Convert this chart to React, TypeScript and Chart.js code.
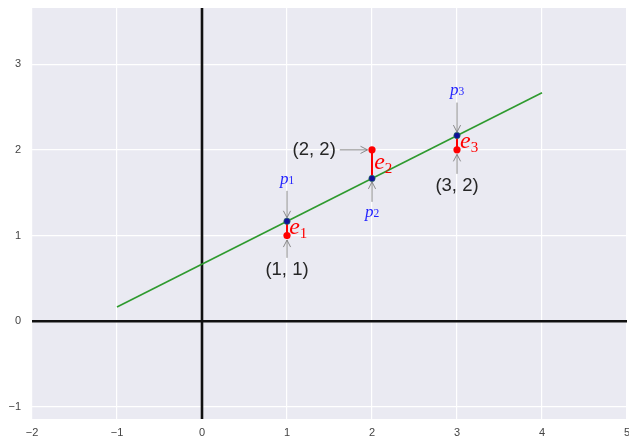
import React, { useEffect, useRef } from "react";
import { Chart, registerables } from "chart.js";
Chart.register(...registerables);

// ---- data ----
const xTicks = [-2, -1, 0, 1, 2, 3, 4, 5];
const yTicks = [-1, 0, 1, 2, 3];
const xRange = [-2, 5];
const yRange = [-1.14, 3.655];

const obsX = [1, 2, 3];
const obsY = [1, 2, 2];
const fitY = [1.1667, 1.6667, 2.1667];

const lineX = [-1, 4];
const lineY = [0.1667, 2.6667];

const pointLabels = ["(1, 1)", "(2, 2)", "(3, 2)"];
const pointLabelX = [1.0, 1.32, 3.0];
const pointLabelY = [0.6, 2.0, 1.58];

const fitSubs = ["1", "2", "3"];
const fitLabelY = [1.65, 1.265, 2.68];

const errSubs = ["1", "2", "3"];
const errLabelDX = [0.025, 0.025, 0.035];

const fmt = (v: number) => (v < 0 ? "\u2212" + Math.abs(v) : String(v));

function drawArrow(ctx: CanvasRenderingContext2D, x0: number, y0: number, x1: number, y1: number) {
  ctx.save();
  ctx.strokeStyle = "rgba(120,120,120,0.85)";
  ctx.lineWidth = 1;
  ctx.beginPath();
  ctx.moveTo(x0, y0);
  ctx.lineTo(x1, y1);
  ctx.stroke();
  const a = Math.atan2(y1 - y0, x1 - x0);
  const L = 7, W = 3.6;
  const bx = x1 - L * Math.cos(a), by = y1 - L * Math.sin(a);
  const nx = -Math.sin(a), ny = Math.cos(a);
  ctx.beginPath();
  ctx.moveTo(bx + nx * W, by + ny * W);
  ctx.lineTo(x1, y1);
  ctx.lineTo(bx - nx * W, by - ny * W);
  ctx.stroke();
  ctx.restore();
}

function drawMath(
  ctx: CanvasRenderingContext2D,
  base: string,
  sub: string,
  x: number,
  yCenter: number,
  size: number,
  subSize: number,
  subDrop: number,
  align: "left" | "center",
  color: string
) {
  ctx.save();
  ctx.fillStyle = color;
  ctx.textBaseline = "alphabetic";
  ctx.textAlign = "left";
  const mainFont = `italic ${size}px "Liberation Serif"`;
  const subFont = `${subSize}px "Liberation Serif"`;
  ctx.font = mainFont;
  const wm = ctx.measureText(base).width;
  ctx.font = subFont;
  const ws = ctx.measureText(sub).width;
  const x0 = align === "center" ? x - (wm + ws) / 2 : x;
  const baseline = yCenter + size * 0.22;
  ctx.font = mainFont;
  ctx.fillText(base, x0, baseline);
  ctx.font = subFont;
  ctx.fillText(sub, x0 + wm, baseline + subDrop);
  ctx.restore();
}

const decoPlugin = {
  id: "deco",
  beforeDraw(chart: any) {
    const { ctx, chartArea: a } = chart;
    ctx.save();
    ctx.fillStyle = "#EAEAF2";
    ctx.fillRect(a.left, a.top, a.right - a.left, a.bottom - a.top);
    ctx.restore();
  },
  beforeDatasetsDraw(chart: any) {
    const { ctx, chartArea: a } = chart;
    const xs = chart.scales.x, ys = chart.scales.y;
    const px = xs.getPixelForValue(0), py = ys.getPixelForValue(0);
    ctx.save();
    ctx.strokeStyle = "#111111";
    ctx.lineWidth = 2.6;
    ctx.beginPath();
    ctx.moveTo(a.left, py);
    ctx.lineTo(a.right, py);
    ctx.moveTo(px, a.top);
    ctx.lineTo(px, a.bottom);
    ctx.stroke();
    ctx.restore();
  },
  afterDatasetsDraw(chart: any) {
    const { ctx } = chart;
    const xs = chart.scales.x, ys = chart.scales.y;
    const gap = 4.5;
    for (let i = 0; i < obsX.length; i++) {
      // coordinate labels
      const cx = xs.getPixelForValue(pointLabelX[i]);
      const cy = ys.getPixelForValue(pointLabelY[i]);
      ctx.save();
      ctx.font = '18.5px "Liberation Sans"';
      ctx.fillStyle = "#262626";
      ctx.textAlign = "center";
      ctx.textBaseline = "middle";
      ctx.fillText(pointLabels[i], cx, cy);
      const w = ctx.measureText(pointLabels[i]).width;
      ctx.restore();
      const tx = xs.getPixelForValue(obsX[i]);
      const ty = ys.getPixelForValue(obsY[i]);
      if (Math.abs(tx - cx) > Math.abs(ty - cy)) {
        const s = Math.sign(tx - cx);
        drawArrow(ctx, cx + s * (w / 2 + 4), ty, tx - s * gap, ty);
      } else {
        const s = Math.sign(ty - cy);
        drawArrow(ctx, tx, cy + s * 12, tx, ty - s * gap);
      }

      // p labels
      const fx = xs.getPixelForValue(obsX[i]);
      const fy = ys.getPixelForValue(fitY[i]);
      const ply = ys.getPixelForValue(fitLabelY[i]);
      drawMath(ctx, "p", fitSubs[i], fx, ply, 17, 11.5, 0, "center", "#2222ff");
      const s2 = Math.sign(fy - ply);
      drawArrow(ctx, fx, ply + s2 * 11, fx, fy - s2 * 3.5);

      // e labels
      const ex = xs.getPixelForValue(obsX[i] + errLabelDX[i]);
      const ey = ys.getPixelForValue((obsY[i] + fitY[i]) / 2);
      drawMath(ctx, "e", errSubs[i], ex, ey, 24, 15, 4, "left", "#ff0000");
    }
  },
};

export default function App() {
  const ref = useRef<HTMLCanvasElement | null>(null);
  useEffect(() => {
    if (!ref.current) return;
    const pt = (xs: number[], ys: number[]) => xs.map((x, i) => ({ x, y: ys[i] }));
    const residuals = obsX.map((x, i) => ({
      data: [
        { x, y: obsY[i] },
        { x, y: fitY[i] },
      ],
      showLine: true,
      pointRadius: 0,
      borderColor: "#ff0000",
      borderWidth: 2,
    }));
    const chart = new Chart(ref.current, {
      type: "scatter",
      data: {
        datasets: [
          {
            data: pt(obsX, fitY),
            pointRadius: 3.2,
            backgroundColor: "#10109a",
            borderColor: "#2a7a5a",
            borderWidth: 0.6,
          },
          {
            data: pt(obsX, obsY),
            pointRadius: 3.6,
            backgroundColor: "#ff0000",
            borderWidth: 0,
          },
          ...residuals,
          {
            data: pt(lineX, lineY),
            showLine: true,
            pointRadius: 0,
            borderColor: "#2e9a2e",
            borderWidth: 1.6,
          },
        ] as any,
      },
      options: {
        animation: false,
        responsive: false,
        events: [],
        layout: { autoPadding: false, padding: { top: 8, right: 2, left: 0, bottom: 0 } },
        plugins: { legend: { display: false }, tooltip: { enabled: false } },
        scales: {
          x: {
            type: "linear",
            min: xRange[0],
            max: xRange[1],
            afterBuildTicks: (s: any) => {
              s.ticks = xTicks.map((v) => ({ value: v }));
            },
            afterFit: (s: any) => {
              s.height = 20;
              s.paddingLeft = 0;
              s.paddingRight = 0;
            },
            grid: { color: "#ffffff", lineWidth: 1.2, drawTicks: false },
            border: { display: false },
            ticks: {
              padding: 7,
              color: "#444444",
              font: { family: '"Liberation Sans"', size: 11 },
              callback: (v: any) => fmt(Number(v)),
              maxRotation: 0,
            },
          },
          y: {
            type: "linear",
            min: yRange[0],
            max: yRange[1],
            afterBuildTicks: (s: any) => {
              s.ticks = yTicks.map((v) => ({ value: v }));
            },
            afterFit: (s: any) => {
              s.width = 32;
              s.paddingTop = 0;
              s.paddingBottom = 0;
            },
            grid: { color: "#ffffff", lineWidth: 1.2, drawTicks: false },
            border: { display: false },
            ticks: {
              padding: 11,
              color: "#444444",
              font: { family: '"Liberation Sans"', size: 11 },
              callback: (v: any) => fmt(Number(v)),
            },
          },
        },
      },
      plugins: [decoPlugin],
    } as any);
    return () => chart.destroy();
  }, []);
  return (
    <div style={{ position: "absolute", left: 0, top: 0, width: 629, height: 439, background: "#ffffff" }}>
      <canvas ref={ref} width={629} height={439} />
    </div>
  );
}
